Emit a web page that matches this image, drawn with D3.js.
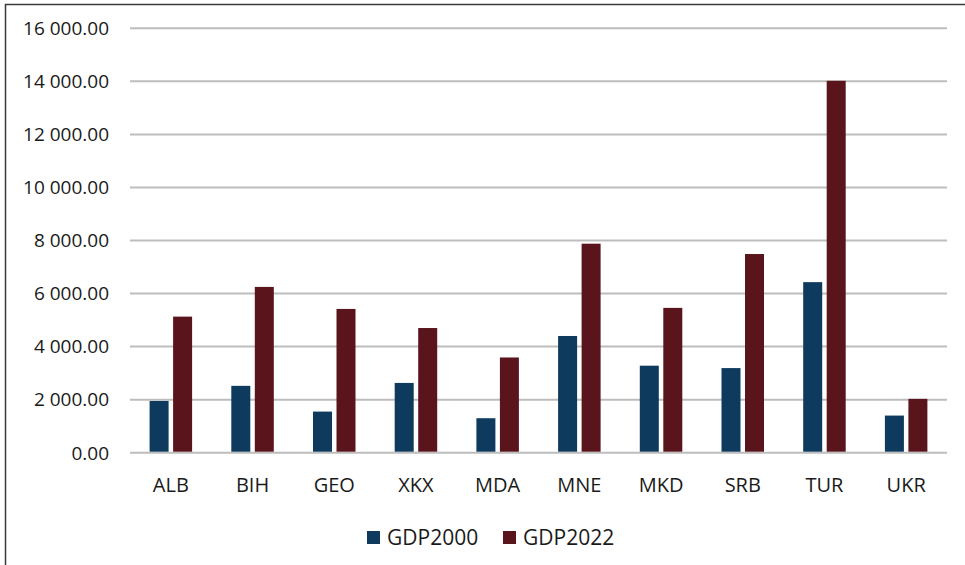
<!DOCTYPE html>
<html>
<head>
<meta charset="utf-8">
<script src="https://cdn.jsdelivr.net/npm/d3@7/dist/d3.min.js"></script>
<style>
    body { margin: 0; background: #fff; }
    svg { display: block; font-family: "Open Sans", "Noto Sans", sans-serif; }
    .tick-label { fill: #1a1a1a; font-size: 19px; }
    .cat-label { fill: #1a1a1a; font-size: 20px; }
    .legend-text { fill: #1a1a1a; font-size: 21px; }
</style>
</head>
<body>
<svg id="chart"></svg>
<script>
// data
const categories = ['ALB', 'BIH', 'GEO', 'XKX', 'MDA', 'MNE', 'MKD', 'SRB', 'TUR', 'UKR'];
const seriesNames = ['GDP2000', 'GDP2022'];
const gdp2000 = [1950, 2520, 1550, 2630, 1300, 4400, 3280, 3190, 6430, 1400];
const gdp2022 = [5130, 6250, 5420, 4700, 3590, 7880, 5460, 7490, 14020, 2030];
const yTicks = [0, 2000, 4000, 6000, 8000, 10000, 12000, 14000, 16000];
const colors = ['#0d3a5d', '#5a141c'];

const W = 965, H = 565;
const padding = { left: 130, right: 18, top: 28.3, bottom: 112.3 };

const svg = d3.select('#chart').attr('width', W).attr('height', H);

// border
svg.append('path')
    .attr('d', 'M5.5,' + H + 'V4.5H' + W)
    .attr('fill', 'none')
    .attr('stroke', '#3a3a3a')
    .attr('stroke-width', 1.5);

const x0 = d3.scaleBand()
    .domain(categories)
    .range([padding.left, W - padding.right])
    .paddingInner(0)
    .paddingOuter(0);

const x1 = d3.scaleBand()
    .domain(seriesNames)
    .range([-21.25, 21.25])
    .paddingInner(0.1915);

const y = d3.scaleLinear()
    .domain([0, 16000])
    .range([H - padding.bottom, padding.top]);

const fmt = d3.formatLocale({ decimal: '.', thousands: ' ', grouping: [3], currency: ['', ''] }).format(',.2f');

// 网格线
const grid = svg.append('g').attr('class', 'grid');
grid.selectAll('line')
    .data(yTicks)
    .enter()
    .append('line')
    .attr('x1', padding.left)
    .attr('x2', W - padding.right)
    .attr('y1', d => y(d))
    .attr('y2', d => y(d))
    .attr('stroke', '#bdbdbd')
    .attr('stroke-width', 2);

grid.selectAll('text')
    .data(yTicks)
    .enter()
    .append('text')
    .attr('class', 'tick-label')
    .attr('x', 109)
    .attr('y', d => y(d))
    .attr('dy', '0.36em')
    .attr('text-anchor', 'end')
    .text(d => fmt(d));

// bars
const rows = categories.map((c, i) => ({ key: c, values: [gdp2000[i], gdp2022[i]] }));

const groups = svg.append('g').attr('class', 'bars')
    .selectAll('g')
    .data(rows)
    .enter()
    .append('g')
    .attr('transform', d => 'translate(' + (x0(d.key) + x0.bandwidth() / 2) + ',0)');

groups.selectAll('rect')
    .data(d => d.values.map((v, j) => ({ name: seriesNames[j], value: v, j: j })))
    .enter()
    .append('rect')
    .attr('x', d => x1(d.name))
    .attr('width', x1.bandwidth())
    .attr('y', d => y(d.value))
    .attr('height', d => y(0) - y(d.value) - 1)
    .attr('fill', d => colors[d.j]);

// category labels
svg.append('g').selectAll('text')
    .data(categories)
    .enter()
    .append('text')
    .attr('class', 'cat-label')
    .attr('x', d => x0(d) + x0.bandwidth() / 2)
    .attr('y', 491.5)
    .attr('text-anchor', 'middle')
    .text(d => d);

// legend
const legendX = [367, 503];
const legend = svg.append('g').attr('class', 'legend')
    .selectAll('g')
    .data(seriesNames)
    .enter()
    .append('g')
    .attr('transform', (d, i) => 'translate(' + legendX[i] + ',531)');

legend.append('rect')
    .attr('width', 13)
    .attr('height', 13)
    .attr('fill', (d, i) => colors[i]);

legend.append('text')
    .attr('class', 'legend-text')
    .attr('x', 20)
    .attr('y', 14)
    .text(d => d);
</script>
</body>
</html>
